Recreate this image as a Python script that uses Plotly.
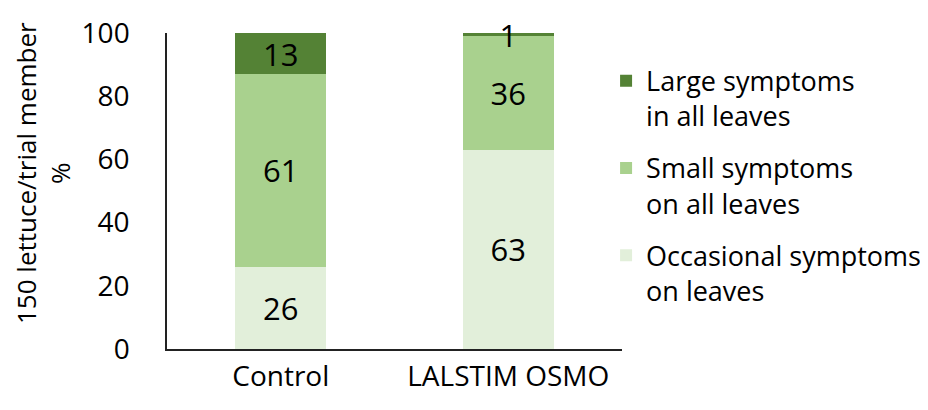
import plotly.graph_objects as go

categories = ["Control", "LALSTIM OSMO"]
occasional = [26, 63]
small = [61, 36]
large = [13, 1]

series_names = [
    "Occasional symptoms<br>on leaves",
    "Small symptoms<br>on all leaves",
    "Large symptoms<br>in all leaves",
]
series_values = [occasional, small, large]
colors = ["#E2EFDA", "#A9D18E", "#548235"]
legend_ranks = [3, 2, 1]

FONT = "Open Sans, Calibri, sans-serif"

fig = go.Figure()
for i, (name, vals, col, rk) in enumerate(zip(series_names, series_values, colors, legend_ranks)):
    fig.add_trace(go.Bar(
        x=categories, y=vals, name=name,
        marker=dict(color=col, line=dict(width=0)),
        text=[str(v) for v in vals],
        texttemplate="%{text}",
        textposition="inside",
        insidetextanchor="middle",
        constraintext="none",
        textangle=0,
        cliponaxis=False,
        textfont=dict(family=FONT, size=31, color="black"),
        legendgroup=f"g{i}",
        legendrank=rk,
        hoverinfo="skip",
    ))

# page body has an 8px margin, so the figure is 8px smaller in each direction
fig.update_layout(
    width=920, height=402,
    barmode="stack",
    bargap=0.6,
    plot_bgcolor="white", paper_bgcolor="white",
    margin=dict(l=159, r=306, t=25, b=61, autoexpand=False),
    font=dict(family=FONT, color="black"),
    showlegend=True,
    legend=dict(
        x=0.965, xanchor="left", y=0.925, yanchor="top",
        traceorder="grouped",
        tracegroupgap=14,
        valign="top",
        font=dict(family=FONT, size=27, color="black"),
        bgcolor="rgba(0,0,0,0)",
    ),
    xaxis=dict(
        showline=True, linecolor="#222", linewidth=1.5,
        ticks="", showgrid=False, automargin=False,
        tickfont=dict(family=FONT, size=28, color="black"),
        ticklabelstandoff=2,
    ),
    yaxis=dict(
        range=[0, 100], dtick=20,
        showline=True, linecolor="#222", linewidth=1.5,
        ticks="", showgrid=False, zeroline=False, automargin=False,
        tickfont=dict(family=FONT, size=28, color="black"),
        ticklabelstandoff=30,
    ),
    annotations=[dict(
        text="150 lettuce/trial member<br>%",
        xref="paper", yref="paper",
        x=-0.2725, y=0.557, xanchor="center", yanchor="middle",
        textangle=-90, showarrow=False,
        font=dict(family=FONT, size=26, color="black"),
    )],
)

fig.write_html("out.html")
